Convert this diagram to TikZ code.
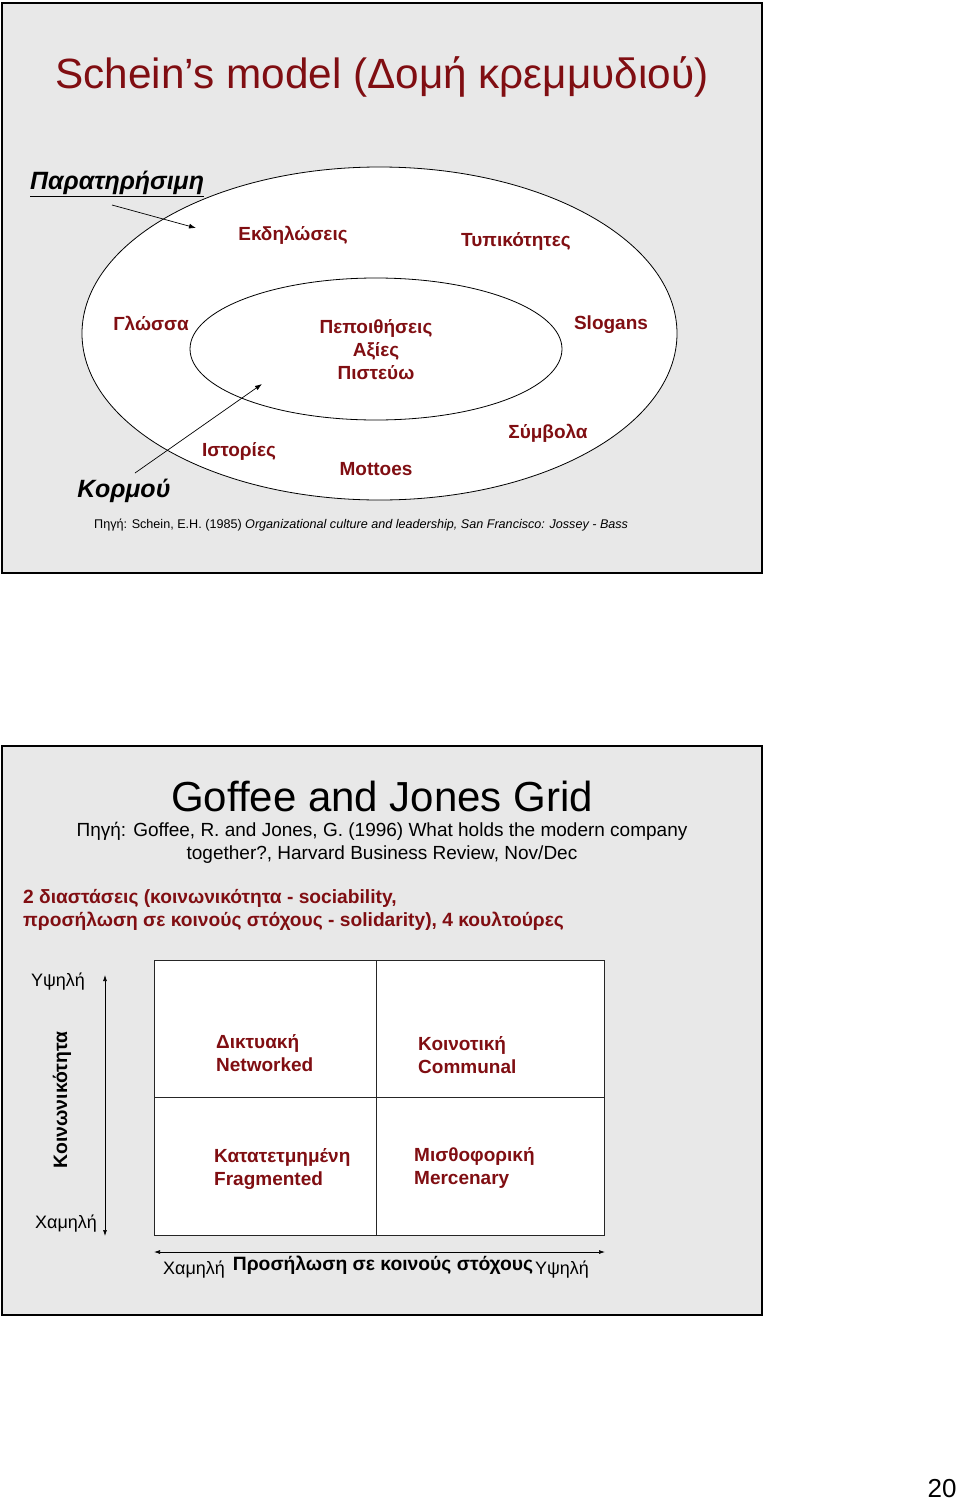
\documentclass[tikz,border=0pt]{standalone}
\usepackage{fontspec}
\setmainfont{Liberation Sans}
\usetikzlibrary{arrows.meta,shapes.geometric}
\definecolor{dred}{RGB}{128,14,18}
\definecolor{slidegray}{RGB}{232,232,232}
\begin{document}
\begin{tikzpicture}[x=1pt,y=-1pt,
  slide/.style={draw=black, line width=2pt, fill=slidegray},
  lbl/.style={text=dred, font=\bfseries\fontsize{19}{23}\selectfont, inner sep=0pt, align=center},
  cell/.style={text=dred, font=\bfseries\fontsize{19}{23}\selectfont, align=left, anchor=west, inner sep=0pt},
  big/.style={font=\bfseries\itshape\fontsize{25}{29}\selectfont, inner sep=0pt},
  plain/.style={font=\fontsize{19}{23}\selectfont, inner sep=0pt},
  arr/.style={-{Latex[length=7pt,width=5pt]}, line width=0.7pt},
  darr/.style={{Latex[length=6pt,width=4pt]}-{Latex[length=6pt,width=4pt]}, line width=0.7pt},
  oval/.style={ellipse, draw=black, line width=0.8pt, fill=white, inner sep=0pt},
]
\useasboundingbox (0,0) rectangle (960,1501);
\fill[white] (0,0) rectangle (960,1501);

% ---------- Slide 1 ----------
\draw[slide] (2,3) rectangle (762,573);
\node[text=dred, font=\fontsize{42.3}{48}\selectfont, inner sep=0pt] (title1) at (382,77) {Schein’s model (Δομή κρεμμυδιού)};

\node[oval, minimum width=595pt, minimum height=333pt] (outer) at (379.5,333.5) {};
\node[oval, minimum width=372pt, minimum height=142pt] (inner) at (376,349) {};

\node[lbl] (ekd) at (293,235) {Εκδηλώσεις};
\node[lbl] (typ) at (516,241) {Τυπικότητες};
\node[lbl] (glo) at (151,323) {Γλώσσα};
\node[lbl] (slo) at (611,325) {Slogans};
\node[lbl] (core) at (376,350) {Πεποιθήσεις\\Αξίες\\Πιστεύω};
\node[lbl] (sym) at (548,433) {Σύμβολα};
\node[lbl] (ist) at (239,451) {Ιστορίες};
\node[lbl] (mot) at (376,469) {Mottoes};

\node[big, anchor=west] (obs) at (30,184) {\underline{Παρατηρήσιμη}};
\node[big] (korm) at (124,491) {Κορμού};

\coordinate (obsT) at (112,205);
\coordinate (obsH) at (196,228);
\draw[arr] (obsT) -- (obsH);
\coordinate (kormT) at (135,473);
\coordinate (kormH) at (262,384);
\draw[arr] (kormT) -- (kormH);

\node[font=\fontsize{12.6}{15}\selectfont, inner sep=0pt, anchor=west] (src1) at (94,525) {Πηγή: Schein, E.H. (1985) \textit{Organizational culture and leadership, San Francisco: Jossey - Bass}};

% ---------- Slide 2 ----------
\draw[slide] (2,746) rectangle (762,1315);
\node[font=\fontsize{42}{48}\selectfont, inner sep=0pt] (title2) at (382,796) {Goffee and Jones Grid};
\node[plain, align=center] (src2) at (382,843) {Πηγή: Goffee, R. and Jones, G. (1996) What holds the modern company\\together?, Harvard Business Review, Nov/Dec};
\node[text=dred, font=\bfseries\fontsize{19.2}{23}\selectfont, inner sep=0pt, align=left, anchor=west] (dims) at (23,909.5) {2 διαστάσεις (κοινωνικότητα - sociability,\\προσήλωση σε κοινούς στόχους - solidarity), 4 κουλτούρες};

\draw[fill=white, draw=black!85, line width=0.8pt] (154,960) rectangle (604,1235);
\draw[draw=black!85, line width=0.8pt] (376,960) -- (376,1235);
\draw[draw=black!85, line width=0.8pt] (154,1097) -- (604,1097);

\node[cell] (net) at (216,1053.5) {Δικτυακή\\Networked};
\node[cell] (com) at (418,1055.5) {Κοινοτική\\Communal};
\node[cell] (fra) at (214,1169.5) {Κατατετμημένη\\Fragmented};
\node[cell] (mer) at (414,1167.5) {Μισθοφορική\\Mercenary};

\coordinate (vTop) at (105,975);
\coordinate (vBot) at (105,1236);
\draw[darr] (vTop) -- (vBot);
\node[plain, font=\fontsize{18}{22}\selectfont] (vHigh) at (58,982) {Υψηλή};
\node[plain, font=\fontsize{18}{22}\selectfont] (vLow) at (66,1224) {Χαμηλή};
\node[font=\bfseries\fontsize{19.4}{23}\selectfont, inner sep=0pt, rotate=90] (soc) at (62,1100) {Κοινωνικότητα};

\coordinate (hL) at (154,1252);
\coordinate (hR) at (605,1252);
\draw[darr] (hL) -- (hR);
\node[plain, font=\fontsize{18}{22}\selectfont] (hLow) at (194,1270) {Χαμηλή};
\node[font=\bfseries\fontsize{19.3}{23}\selectfont, inner sep=0pt] (sol) at (383,1265) {Προσήλωση σε κοινούς στόχους};
\node[plain, font=\fontsize{18}{22}\selectfont] (hHigh) at (562,1270) {Υψηλή};

\node[font=\fontsize{26}{30}\selectfont, inner sep=0pt] (pg) at (942,1489) {20};
\end{tikzpicture}
\end{document}
